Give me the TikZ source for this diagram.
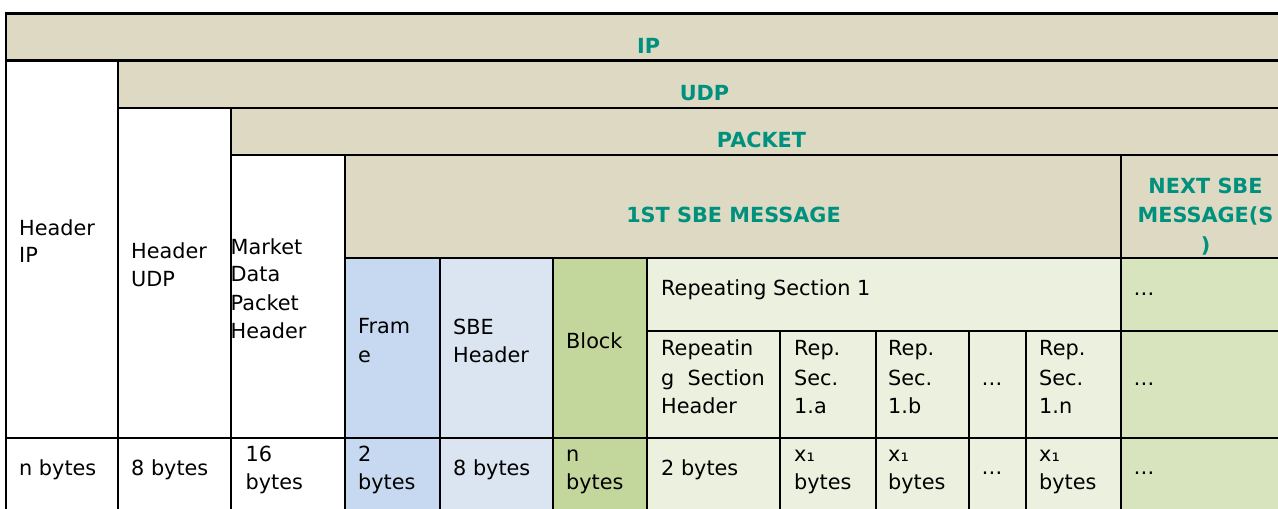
\documentclass[tikz,border=0pt]{standalone}
\usepackage{fontspec}
\setmainfont{DejaVu Sans}
\definecolor{tanbg}{HTML}{DDD9C3}
\definecolor{framebg}{HTML}{C6D9F1}
\definecolor{sbebg}{HTML}{DBE5F1}
\definecolor{blockbg}{HTML}{C3D69B}
\definecolor{repbg}{HTML}{EBF1DE}
\definecolor{nextbg}{HTML}{D7E4BD}
\definecolor{tealtxt}{HTML}{00917E}
\begin{document}
\begin{tikzpicture}[x=1pt,y=-1pt,
  txt/.style={anchor=base west, inner sep=0pt, font=\fontsize{20.8}{25}\selectfont},
  hd/.style={anchor=base, inner sep=0pt, font=\fontsize{20.8}{25}\selectfont\bfseries, text=tealtxt},
  outer/.style={line width=2.6pt},
  mainln/.style={line width=2.2pt},
  midln/.style={line width=1.8pt},
  thinln/.style={line width=1.2pt}]
\useasboundingbox (0,0) rectangle (1278,509);
\clip (0,0) rectangle (1278,509);
\def\R{1300}
\def\B{520}
% fills
\fill[tanbg] (6,13.7) rectangle (\R,60.5);
\fill[tanbg] (118,60.5) rectangle (\R,107.7);
\fill[tanbg] (231,107.7) rectangle (\R,155);
\fill[tanbg] (345,155) rectangle (\R,258);
\fill[framebg] (345,258) rectangle (440,\B);
\fill[sbebg] (440,258) rectangle (553,\B);
\fill[blockbg] (553,258) rectangle (647,\B);
\fill[repbg] (647,258) rectangle (1121,\B);
\fill[nextbg] (1121,258) rectangle (\R,\B);
% horizontal lines
\draw[outer] (4.7,13.7) -- (\R,13.7);
\draw[mainln] (6,60.5) -- (\R,60.5);
\draw[mainln] (118,107.7) -- (\R,107.7);
\draw[mainln] (231,155) -- (\R,155);
\draw[thinln] (345,258) -- (\R,258);
\draw[midln] (647,331) -- (\R,331);
\draw[mainln] (6,438) -- (\R,438);
% vertical lines
\draw[outer] (6,13.7) -- (6,\B);
\draw[mainln] (118.3,60.5) -- (118.3,\B);
\draw[mainln] (231.2,107.7) -- (231.2,\B);
\draw[mainln] (345,155) -- (345,\B);
\draw[thinln] (440,258) -- (440,\B);
\draw[thinln] (553,258) -- (553,\B);
\draw[midln] (647,258) -- (647,\B);
\draw[midln] (780,331) -- (780,\B);
\draw[midln] (876,331) -- (876,\B);
\draw[midln] (969,331) -- (969,\B);
\draw[midln] (1026,331) -- (1026,\B);
\draw[midln] (1121,155) -- (1121,\B);
% headings
\node[hd] (ip) at (648.5,53.3) {IP};
\node[hd] (udp) at (704.5,100) {UDP};
\node[hd] (packet) at (761.5,147.3) {PACKET};
\node[hd] (sbe1) at (733.5,222.7) {1ST SBE MESSAGE};
\node[hd] (next1) at (1205.5,193.3) {NEXT SBE};
\node[hd] (next2) at (1205.5,222.7) {MESSAGE(S};
\node[hd] (next3) at (1205.5,252) {)};
% header column texts
\node[txt] (hip1) at (19,235) {Header};
\node[txt] (hip2) at (19,262.7) {IP};
\node[txt] (hudp1) at (131,258.3) {Header};
\node[txt] (hudp2) at (131,286.7) {UDP};
\node[txt] (mk1) at (230.5,254) {Market};
\node[txt] (mk2) at (230.5,281.8) {Data};
\node[txt] (mk3) at (230.5,310) {Packet};
\node[txt] (mk4) at (230.5,338.3) {Header};
\node[txt] (fr1) at (358,333.5) {Fram};
\node[txt] (fr2) at (358,362) {e};
\node[txt] (sh1) at (453,334) {SBE};
\node[txt] (sh2) at (453,362.3) {Header};
\node[txt] (blk) at (566,348.3) {Block};
\node[txt] (rs1) at (661,295) {Repeating Section 1};
\node[txt] (rsn) at (1133.5,295) {…};
\node[txt] (rh1) at (661,355.5) {Repeatin};
\node[txt] (rh2) at (661,385) {g\ \ Section};
\node[txt] (rh3) at (661,413.3) {Header};
\node[txt] (ra1) at (794,355.5) {Rep.};
\node[txt] (ra2) at (794,385) {Sec.};
\node[txt] (ra3) at (794,413.3) {1.a};
\node[txt] (rb1) at (888,355.5) {Rep.};
\node[txt] (rb2) at (888,385) {Sec.};
\node[txt] (rb3) at (888,413.3) {1.b};
\node[txt] (rdots) at (981.5,385) {…};
\node[txt] (rn1) at (1039,355.5) {Rep.};
\node[txt] (rn2) at (1039,385) {Sec.};
\node[txt] (rn3) at (1039,413.3) {1.n};
\node[txt] (nmid) at (1133.5,385) {…};
% bottom row
\node[txt] (b1) at (19,475.5) {n bytes};
\node[txt] (b2) at (131,475.5) {8 bytes};
\node[txt] (b3a) at (245.5,461.7) {16};
\node[txt] (b3b) at (245.5,489.5) {bytes};
\node[txt] (b4a) at (358,461.7) {2};
\node[txt] (b4b) at (358,489.5) {bytes};
\node[txt] (b5) at (453,475.5) {8 bytes};
\node[txt] (b6a) at (566,461.7) {n};
\node[txt] (b6b) at (566,489.5) {bytes};
\node[txt] (b7) at (661,475.5) {2 bytes};
\node[txt] (b8a) at (794,461.7) {x₁};
\node[txt] (b8b) at (794,489.5) {bytes};
\node[txt] (b9a) at (888,461.7) {x₁};
\node[txt] (b9b) at (888,489.5) {bytes};
\node[txt] (b10) at (981.5,474) {…};
\node[txt] (b11a) at (1039,461.7) {x₁};
\node[txt] (b11b) at (1039,489.5) {bytes};
\node[txt] (b12) at (1133.5,474) {…};
\end{tikzpicture}
\end{document}
